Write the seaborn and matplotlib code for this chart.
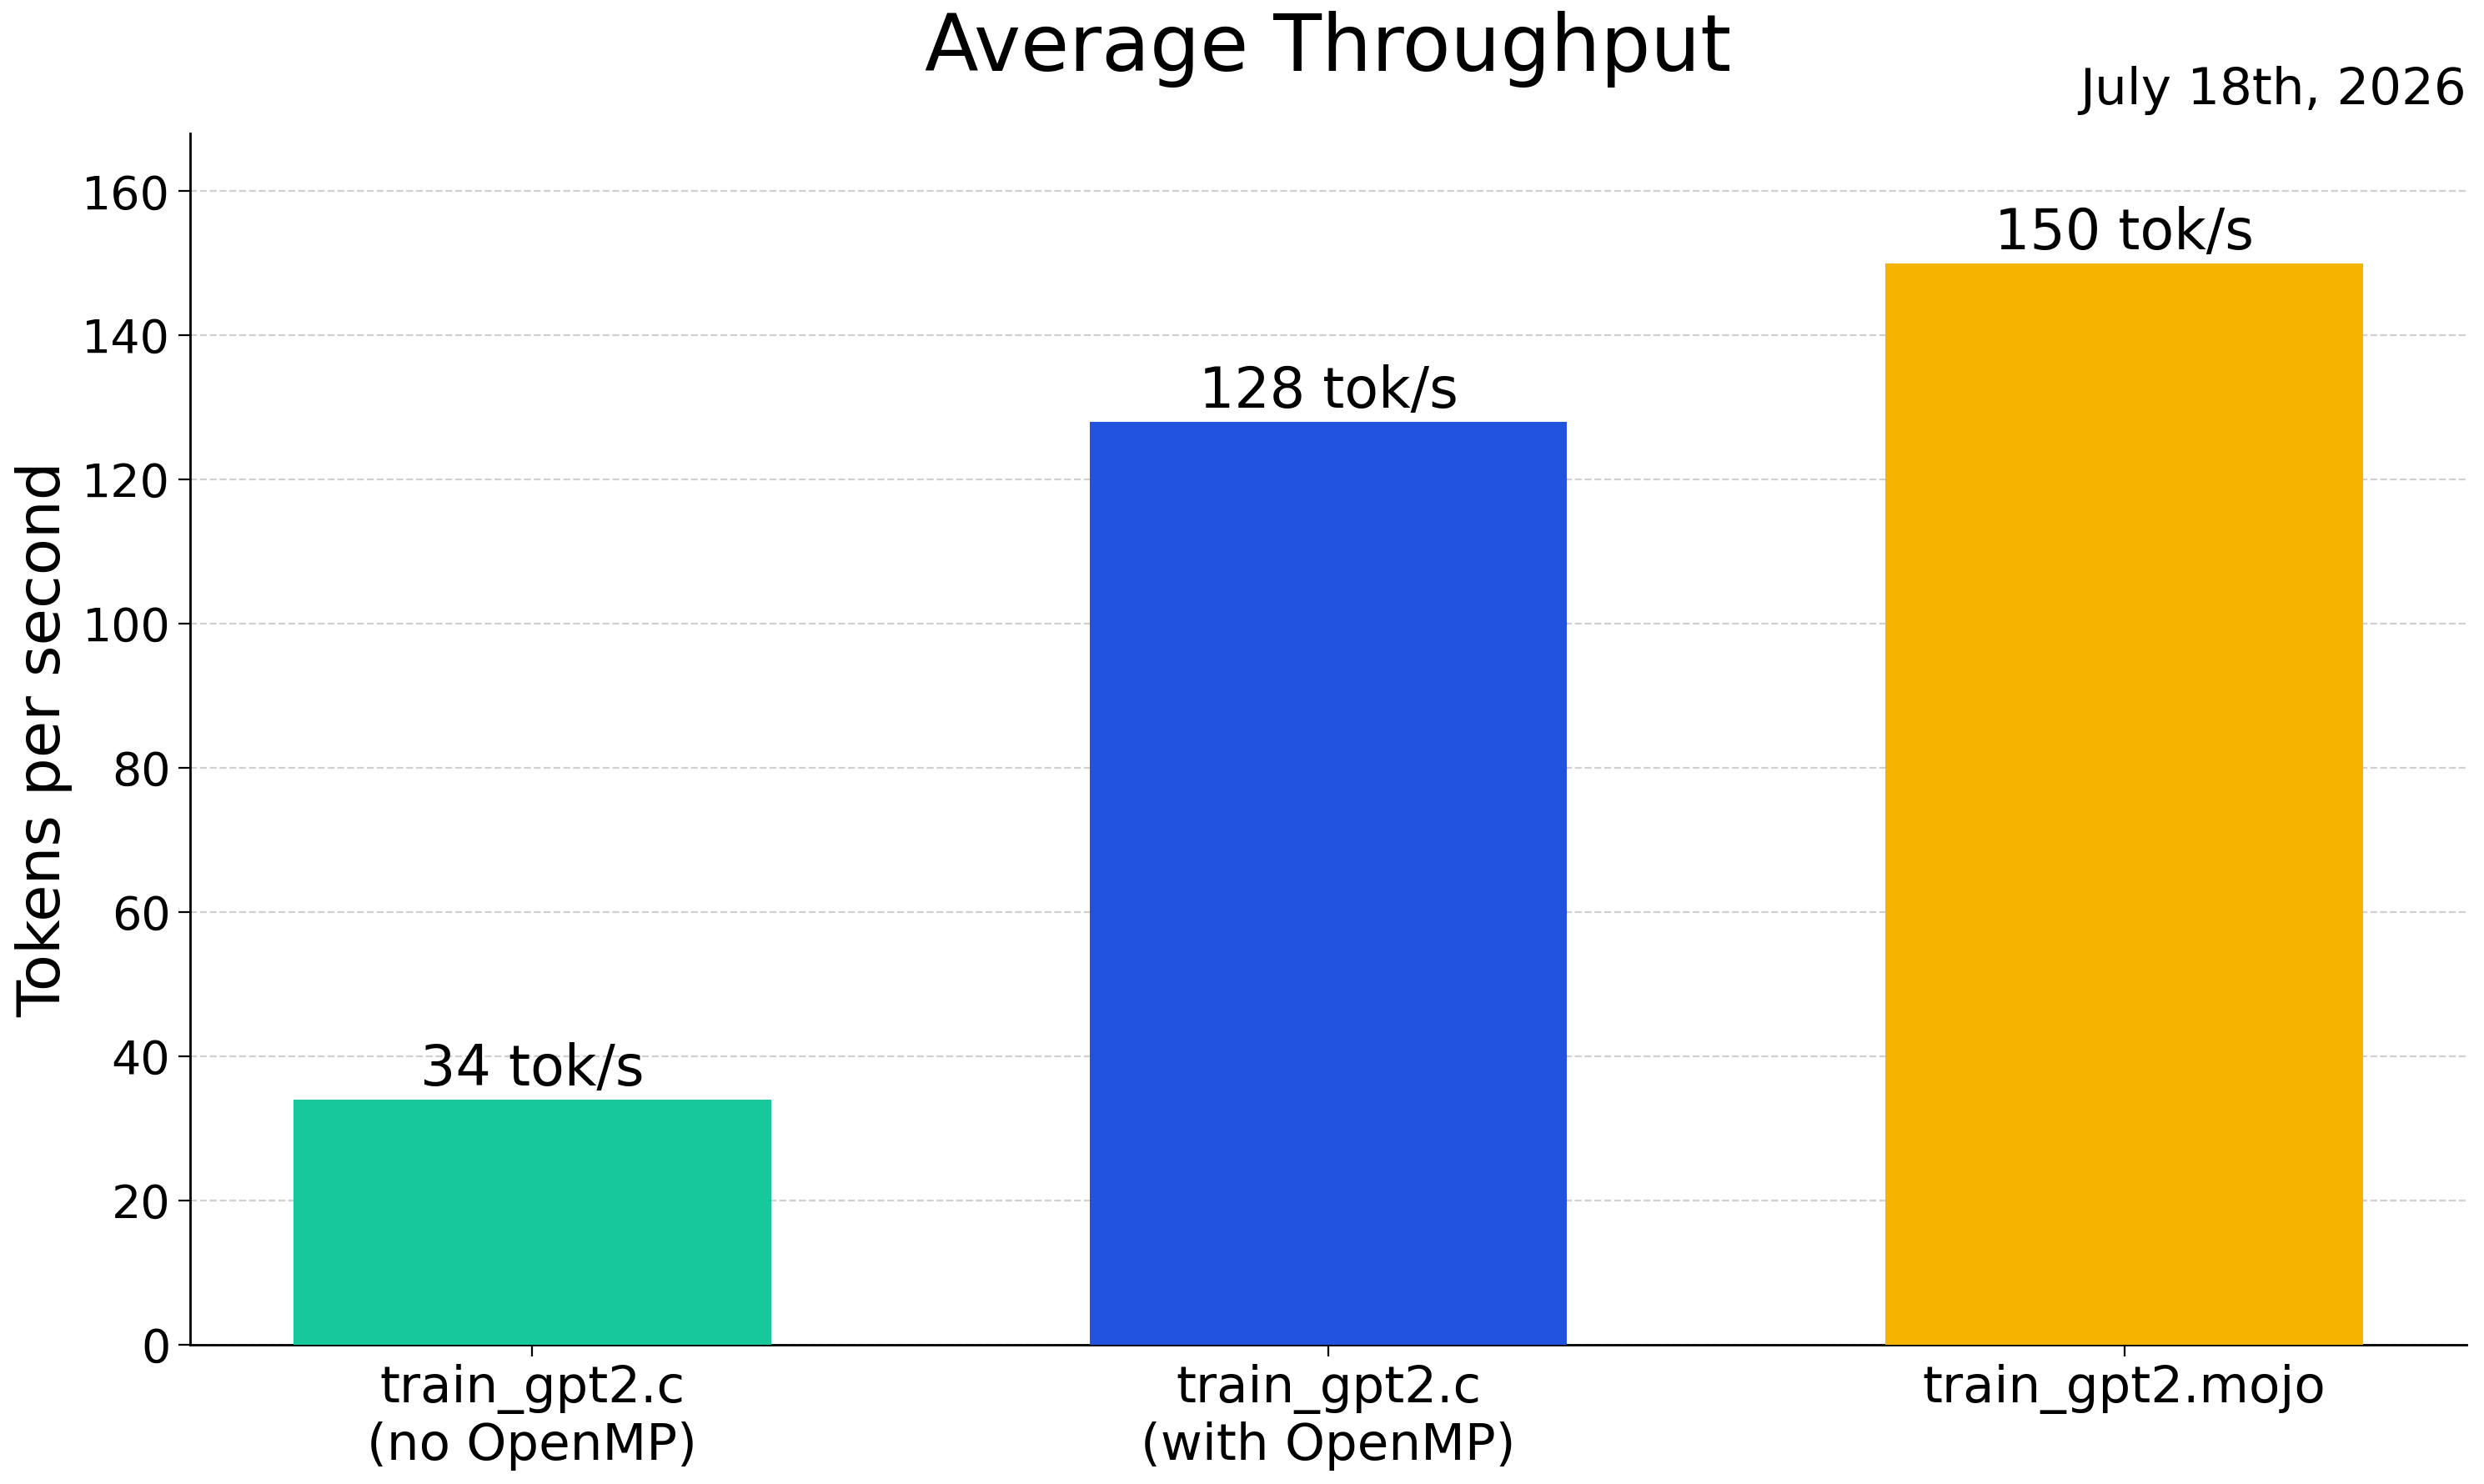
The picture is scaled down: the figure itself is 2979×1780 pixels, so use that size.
"""
Average throughput bar chart for the train_gpt2 variants.
"""

import pandas as pd
import seaborn as sns
import matplotlib.pyplot as plt

# data
programs = ["train_gpt2.c\n(no OpenMP)", "train_gpt2.c\n(with OpenMP)", "train_gpt2.mojo"]
tokens_per_sec = [34, 128, 150]
bar_colors = ["#17C89A", "#2152E0", "#F4B400"]
y_ticks = [0, 20, 40, 60, 80, 100, 120, 140, 160]

df = pd.DataFrame({"program": programs, "tps": tokens_per_sec})

sns.set_style("white")
plt.rcParams["font.family"] = ["DejaVu Sans"]
plt.rcParams["text.color"] = "black"
plt.rcParams["axes.labelcolor"] = "black"

fig = plt.figure(figsize=(2979 / 200, 1780 / 200), dpi=200)
ax = fig.add_axes([0.0765, 0.094, 0.9165, 0.816])

sns.barplot(data=df, x="program", y="tps", hue="program", palette=bar_colors,
            width=0.6, saturation=1, legend=False, linewidth=0, ax=ax, zorder=3)

# value labels on top of the bars
for cont in ax.containers:
    ax.bar_label(cont, labels=[f"{int(v)} tok/s" for v in cont.datavalues],
                 fontsize=24, padding=1, color="black")

ax.set_xlim(-0.43, 2.43)
ax.set_ylim(0, 168)
ax.set_yticks(y_ticks)
ax.grid(axis="y", linestyle="--", color="#d0d0d0", linewidth=0.8, zorder=0)
ax.set_axisbelow(True)
sns.despine(ax=ax)
for s in ["left", "bottom"]:
    ax.spines[s].set_color("black")
    ax.spines[s].set_linewidth(1.0)

ax.tick_params(axis="both", length=5, width=0.8, colors="black",
               labelcolor="black", left=True, bottom=True)
ax.tick_params(axis="x", labelsize=22)
ax.tick_params(axis="y", labelsize=20)
ax.set_xlabel("")
ax.set_ylabel("Tokens per second", fontsize=26, color="black")
ax.set_title("Average Throughput", fontsize=34, pad=27, color="black")
ax.text(1.0, 1.015, "July 18th, 2026", transform=ax.transAxes,
        ha="right", va="bottom", fontsize=22, color="black")

plt.savefig("out.png", dpi=200)
